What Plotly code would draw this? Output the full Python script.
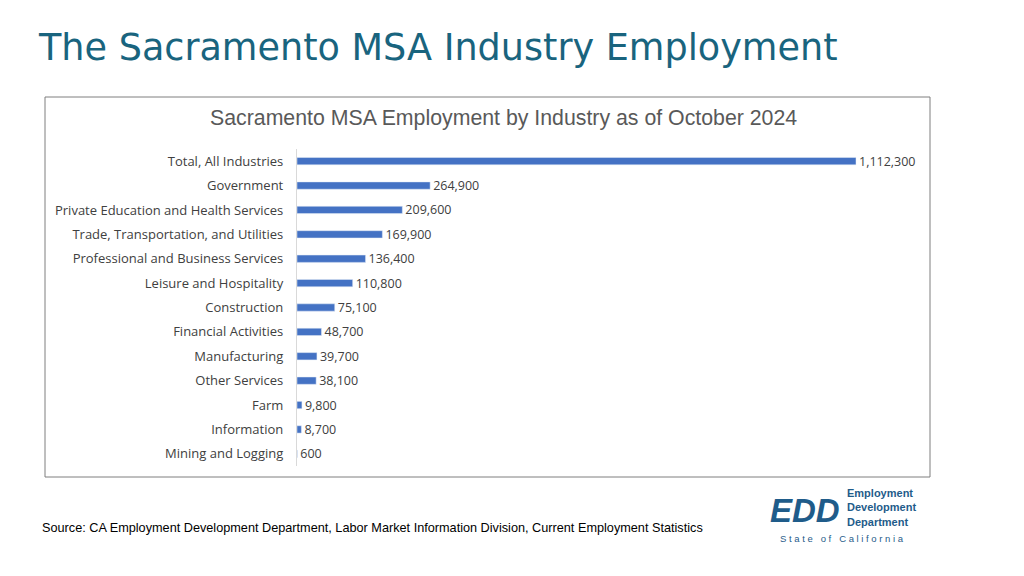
import plotly.graph_objects as go

categories = ["Total, All Industries","Government","Private Education and Health Services",
 "Trade, Transportation, and Utilities","Professional and Business Services","Leisure and Hospitality",
 "Construction","Financial Activities","Manufacturing","Other Services","Farm","Information","Mining and Logging"]
values = [1112300,264900,209600,169900,136400,110800,75100,48700,39700,38100,9800,8700,600]

W,H=1024,576
O=8  # page body offset
def px(x): return (x-O)/W
def py(y): return 1-(y-O)/H
fig=go.Figure(go.Bar(y=categories,x=values,orientation="h",marker_color="#4472C4",
    text=[f"{v:,}" for v in values],textposition="outside",cliponaxis=False,constraintext="none",
    textfont=dict(family="Open Sans",size=12.5,color="#404040")))
fig.update_layout(width=W,height=H,margin=dict(l=0,r=0,t=0,b=0),plot_bgcolor="white",paper_bgcolor="white",
    bargap=0.7,showlegend=False,
    xaxis=dict(domain=[px(297),px(930)],range=[0,1112300*633/559],visible=False),
    yaxis=dict(domain=[py(466),py(149)],autorange="reversed",showgrid=False,ticks="",
        showline=True,linecolor="#d9d9d9",ticksuffix="   ",
        tickfont=dict(family="Open Sans",size=13,color="#404040")))
fig.add_shape(type="rect",xref="paper",yref="paper",x0=px(45),x1=px(930),y0=py(477),y1=py(97),
    line=dict(color="#7f7f7f",width=1))
ann=[dict(x=px(36),y=py(48),text="The Sacramento MSA Industry Employment",font=dict(family="DejaVu Sans",size=36.6,color="#19647e"),xanchor="left"),
 dict(x=px(503),y=py(118),text="Sacramento MSA Employment by Industry as of October 2024",font=dict(family="Liberation Sans",size=21.3,color="#595959"),xanchor="center"),
 dict(x=px(40),y=py(528),text="Source: CA Employment Development Department, Labor Market Information Division, Current Employment Statistics",font=dict(family="Liberation Sans",size=12.7,color="black"),xanchor="left"),
 dict(x=px(805),y=py(510),text="<b><i>EDD</i></b>",font=dict(family="Liberation Sans",size=33,color="#1f5c8a"),xanchor="center"),
 dict(x=px(845),y=py(507),text="<b>Employment<br>Development<br>Department</b>",font=dict(family="Liberation Sans",size=11,color="#1f5c8a"),xanchor="left",align="left"),
 dict(x=px(842),y=py(538),text="S t a t e   o f   C a l i f o r n i a",font=dict(family="Liberation Sans",size=9.5,color="#1f5c8a"),xanchor="center"),
]
for a in ann:
    a.update(xref="paper",yref="paper",showarrow=False,yanchor="middle")
    fig.add_annotation(**a)
fig.write_html("out.html")
